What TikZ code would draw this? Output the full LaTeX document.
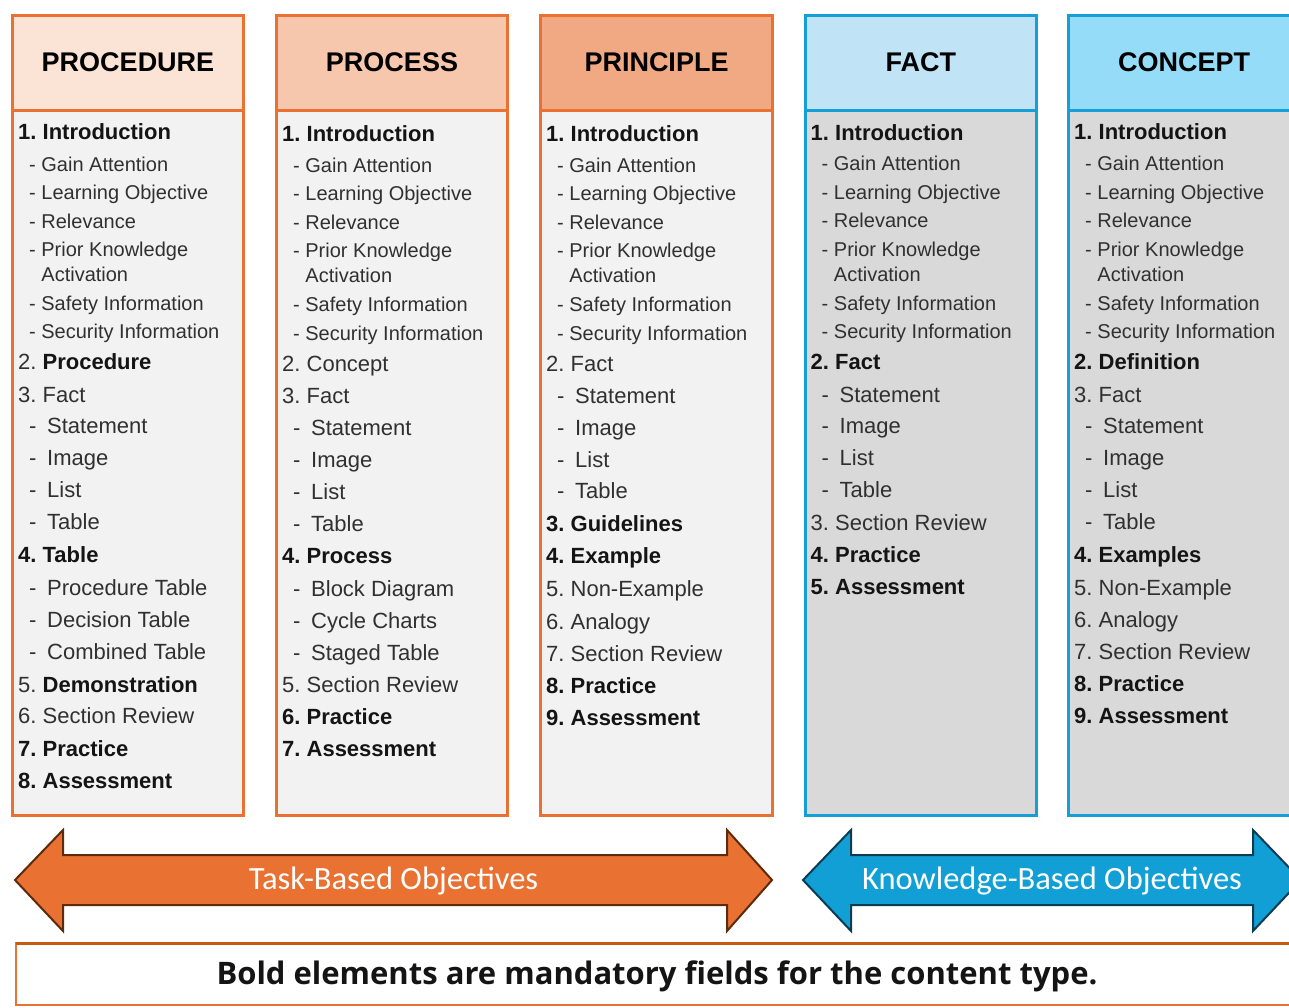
\documentclass[tikz,border=0pt]{standalone}
\usepackage{fontspec}
\setmainfont{Liberation Sans}
\newfontfamily\arrowfont{Carlito}
\newfontfamily\notefont{Open Sans}
\definecolor{orB}{HTML}{E97132}
\definecolor{blB}{HTML}{169ED6}
\definecolor{hA}{HTML}{FBE3D6}
\definecolor{hB}{HTML}{F6C6AD}
\definecolor{hC}{HTML}{F1A983}
\definecolor{hD}{HTML}{C0E4F5}
\definecolor{hE}{HTML}{95DCF8}
\definecolor{bodyO}{HTML}{F2F2F2}
\definecolor{bodyB}{HTML}{D9D9D9}
\definecolor{txt}{HTML}{303030}
\definecolor{txtb}{HTML}{141414}
\definecolor{arrO}{HTML}{E97132}
\definecolor{arrOd}{HTML}{5E2A0C}
\definecolor{arrB}{HTML}{129FD6}
\definecolor{arrBd}{HTML}{0B3D52}
\definecolor{noteTop}{HTML}{C55A11}
\newcommand{\dd}{\makebox[18pt][l]{-}}
\frenchspacing
\tikzset{
  colhead/.style={draw, line width=3pt, minimum width=231pt, minimum height=95pt, inner sep=0pt, anchor=north west, font=\fontsize{27}{30}\selectfont\bfseries, text=black},
  colbody/.style={draw, line width=3pt, minimum width=231pt, minimum height=705pt, inner sep=0pt, anchor=north west},
  it/.style={anchor=base west, inner sep=0pt, text=txt, font=\fontsize{22}{24}\selectfont},
  itb/.style={anchor=base west, inner sep=0pt, text=txtb, font=\fontsize{22}{24}\selectfont\bfseries},
  sm/.style={anchor=base west, inner sep=0pt, text=txt, font=\fontsize{20}{22}\selectfont},
  arrlabel/.style={text=white, font=\arrowfont\fontsize{32.5}{34}\selectfont, inner sep=0pt}
}
\newcommand{\hd}[1]{\raisebox{2pt}{#1}}
\begin{document}
\begin{tikzpicture}[x=1pt,y=-1pt]
\useasboundingbox (0,0) rectangle (1289,1007);
\clip (0,0) rectangle (1289,1007);
\fill[white] (0,0) rectangle (1289,1007);

% ---------- columns ----------
\node[colbody, draw=orB, fill=bodyO] (b1) at (11,109) {};
\node[colhead, draw=orB, fill=hA] (h1) at (11,14) {\hd{PROCEDURE}};
\node[colbody, draw=orB, fill=bodyO] (b2) at (275,109) {};
\node[colhead, draw=orB, fill=hB] (h2) at (275,14) {\hd{PROCESS}};
\node[colbody, draw=orB, fill=bodyO, minimum width=232pt] (b3) at (539,109) {};
\node[colhead, draw=orB, fill=hC, minimum width=232pt] (h3) at (539,14) {\hd{PRINCIPLE}};
\node[colbody, draw=blB, fill=bodyB, minimum width=231.5pt] (b4) at (803.5,109) {};
\node[colhead, draw=blB, fill=hD, minimum width=231.5pt] (h4) at (803.5,14) {\hd{FACT}};
\node[colbody, draw=blB, fill=bodyB] (b5) at (1067,109) {};
\node[colhead, draw=blB, fill=hE] (h5) at (1067,14) {\hd{CONCEPT}};

% ---------- column 1 ----------
\node[itb] (c1i) at (18,139) {1. Introduction};
\node[sm] (c1a) at (29,171) {- Gain Attention};
\node[sm] (c1b) at (29,199) {- Learning Objective};
\node[sm] (c1c) at (29,228) {- Relevance};
\node[sm] (c1d) at (29,256) {- Prior Knowledge};
\node[sm] (c1e) at (29,281) {\phantom{- }Activation};
\node[sm] (c1f) at (29,310) {- Safety Information};
\node[sm] (c1g) at (29,338) {- Security Information};
\node[it] (c1j) at (18,369) {2. \textbf{\color{txtb}Procedure}};
\node[it] (c1k) at (18,402) {3. Fact};
\node[it] (c1l) at (29,433) {\dd Statement};
\node[it] (c1m) at (29,465) {\dd Image};
\node[it] (c1n) at (29,497) {\dd List};
\node[it] (c1o) at (29,529) {\dd Table};
\node[itb] (c1p) at (18,562) {4. Table};
\node[it] (c1q) at (29,595) {\dd Procedure Table};
\node[it] (c1r) at (29,627) {\dd Decision Table};
\node[it] (c1s) at (29,659) {\dd Combined Table};
\node[it] (c1t) at (18,692) {5. \textbf{\color{txtb}Demonstration}};
\node[it] (c1u) at (18,723) {6. Section Review};
\node[itb] (c1v) at (18,756) {7. Practice};
\node[itb] (c1w) at (18,788) {8. Assessment};

% ---------- column 2 ----------
\node[itb] (c2i) at (282,141) {1. Introduction};
\node[sm] (c2a) at (293,172) {- Gain Attention};
\node[sm] (c2b) at (293,200) {- Learning Objective};
\node[sm] (c2c) at (293,229) {- Relevance};
\node[sm] (c2d) at (293,257) {- Prior Knowledge};
\node[sm] (c2e) at (293,282) {\phantom{- }Activation};
\node[sm] (c2f) at (293,311) {- Safety Information};
\node[sm] (c2g) at (293,340) {- Security Information};
\node[it] (c2j) at (282,371) {2. Concept};
\node[it] (c2k) at (282,403) {3. Fact};
\node[it] (c2l) at (293,435) {\dd Statement};
\node[it] (c2m) at (293,467) {\dd Image};
\node[it] (c2n) at (293,499) {\dd List};
\node[it] (c2o) at (293,531) {\dd Table};
\node[itb] (c2p) at (282,563) {4. Process};
\node[it] (c2q) at (293,596) {\dd Block Diagram};
\node[it] (c2r) at (293,628) {\dd Cycle Charts};
\node[it] (c2s) at (293,660) {\dd Staged Table};
\node[it] (c2t) at (282,692) {5. Section Review};
\node[itb] (c2u) at (282,724) {6. Practice};
\node[itb] (c2v) at (282,756) {7. Assessment};

% ---------- column 3 ----------
\node[itb] (c3i) at (546,141) {1. Introduction};
\node[sm] (c3a) at (557,172) {- Gain Attention};
\node[sm] (c3b) at (557,200) {- Learning Objective};
\node[sm] (c3c) at (557,229) {- Relevance};
\node[sm] (c3d) at (557,257) {- Prior Knowledge};
\node[sm] (c3e) at (557,282) {\phantom{- }Activation};
\node[sm] (c3f) at (557,311) {- Safety Information};
\node[sm] (c3g) at (557,340) {- Security Information};
\node[it] (c3j) at (546,371) {2. Fact};
\node[it] (c3l) at (557,403) {\dd Statement};
\node[it] (c3m) at (557,435) {\dd Image};
\node[it] (c3n) at (557,467) {\dd List};
\node[it] (c3o) at (557,498) {\dd Table};
\node[itb] (c3p) at (546,531) {3. Guidelines};
\node[itb] (c3q) at (546,563) {4. Example};
\node[it] (c3r) at (546,596) {5. Non-Example};
\node[it] (c3s) at (546,629) {6. Analogy};
\node[it] (c3t) at (546,661) {7. Section Review};
\node[itb] (c3u) at (546,693) {8. Practice};
\node[itb] (c3v) at (546,725) {9. Assessment};

% ---------- column 4 ----------
\node[itb] (c4i) at (810.5,140) {1. Introduction};
\node[sm] (c4a) at (821.5,170) {- Gain Attention};
\node[sm] (c4b) at (821.5,199) {- Learning Objective};
\node[sm] (c4c) at (821.5,227) {- Relevance};
\node[sm] (c4d) at (821.5,256) {- Prior Knowledge};
\node[sm] (c4e) at (821.5,281) {\phantom{- }Activation};
\node[sm] (c4f) at (821.5,310) {- Safety Information};
\node[sm] (c4g) at (821.5,338) {- Security Information};
\node[itb] (c4j) at (810.5,369) {2. Fact};
\node[it] (c4l) at (821.5,402) {\dd Statement};
\node[it] (c4m) at (821.5,433) {\dd Image};
\node[it] (c4n) at (821.5,465) {\dd List};
\node[it] (c4o) at (821.5,497) {\dd Table};
\node[it] (c4p) at (810.5,530) {3. Section Review};
\node[itb] (c4q) at (810.5,562) {4. Practice};
\node[itb] (c4r) at (810.5,594) {5. Assessment};

% ---------- column 5 ----------
\node[itb] (c5i) at (1074,139) {1. Introduction};
\node[sm] (c5a) at (1085,170) {- Gain Attention};
\node[sm] (c5b) at (1085,199) {- Learning Objective};
\node[sm] (c5c) at (1085,227) {- Relevance};
\node[sm] (c5d) at (1085,256) {- Prior Knowledge};
\node[sm] (c5e) at (1085,281) {\phantom{- }Activation};
\node[sm] (c5f) at (1085,310) {- Safety Information};
\node[sm] (c5g) at (1085,338) {- Security Information};
\node[itb] (c5j) at (1074,369) {2. Definition};
\node[it] (c5k) at (1074,402) {3. Fact};
\node[it] (c5l) at (1085,433) {\dd Statement};
\node[it] (c5m) at (1085,465) {\dd Image};
\node[it] (c5n) at (1085,497) {\dd List};
\node[it] (c5o) at (1085,529) {\dd Table};
\node[itb] (c5p) at (1074,562) {4. Examples};
\node[it] (c5q) at (1074,595) {5. Non-Example};
\node[it] (c5r) at (1074,627) {6. Analogy};
\node[it] (c5s) at (1074,659) {7. Section Review};
\node[itb] (c5t) at (1074,691) {8. Practice};
\node[itb] (c5u) at (1074,723) {9. Assessment};

% ---------- arrows ----------
\draw[fill=arrO, draw=arrOd, line width=2pt, line join=miter]
  (15,880) -- (63,830) -- (63,855) -- (727,855) -- (727,830) -- (772,880)
  -- (727,931) -- (727,905) -- (63,905) -- (63,931) -- cycle;
\node[arrlabel] (task) at (393.5,881) {Task-Based Objectives};
\draw[fill=arrB, draw=arrBd, line width=2pt, line join=miter]
  (803,880) -- (851,830) -- (851,855) -- (1253,855) -- (1253,830) -- (1301,880)
  -- (1253,931) -- (1253,905) -- (851,905) -- (851,931) -- cycle;
\node[arrlabel] (know) at (1052,881) {Knowledge-Based Objectives};

% ---------- note box ----------
\draw[draw=orB, line width=2pt, fill=white] (16,943) rectangle (1330,1005);
\draw[draw=noteTop, line width=3pt] (16,943) -- (1330,943);
\node[font=\notefont\bfseries\fontsize{31}{34}\selectfont, text=txtb, inner sep=0pt] (note) at (657,976) {Bold elements are mandatory fields for the content type.};
\end{tikzpicture}
\end{document}
